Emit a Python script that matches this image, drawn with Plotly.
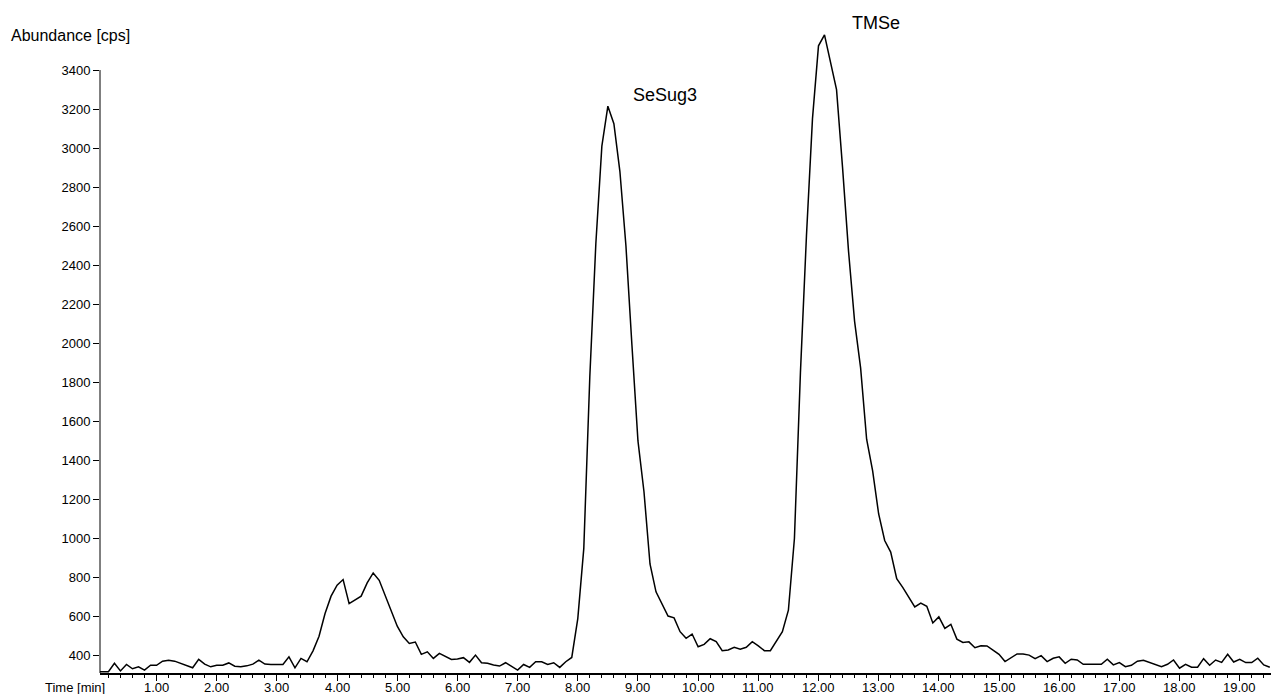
import plotly.graph_objects as go

time_min = [
    0.0, 0.1, 0.2, 0.3, 0.4, 0.5, 0.6, 0.7, 0.8, 0.9,
    1.0, 1.1, 1.2, 1.3, 1.4, 1.5, 1.6, 1.7, 1.8, 1.9,
    2.0, 2.1, 2.2, 2.3, 2.4, 2.5, 2.6, 2.7, 2.8, 2.9,
    3.0, 3.1, 3.2, 3.3, 3.4, 3.5, 3.6, 3.7, 3.8, 3.9,
    4.0, 4.1, 4.2, 4.3, 4.4, 4.5, 4.6, 4.7, 4.8, 4.9,
    5.0, 5.1, 5.2, 5.3, 5.4, 5.5, 5.6, 5.7, 5.8, 5.9,
    6.0, 6.1, 6.2, 6.3, 6.4, 6.5, 6.6, 6.7, 6.8, 6.9,
    7.0, 7.1, 7.2, 7.3, 7.4, 7.5, 7.6, 7.7, 7.8, 7.9,
    8.0, 8.1, 8.2, 8.3, 8.4, 8.5, 8.6, 8.7, 8.8, 8.9,
    9.0, 9.1, 9.2, 9.3, 9.4, 9.5, 9.6, 9.7, 9.8, 9.9,
    10.0, 10.1, 10.2, 10.3, 10.4, 10.5, 10.6, 10.7, 10.8, 10.9,
    11.0, 11.1, 11.2, 11.3, 11.4, 11.5, 11.6, 11.7, 11.8, 11.9,
    12.0, 12.1, 12.2, 12.3, 12.4, 12.5, 12.6, 12.7, 12.8, 12.9,
    13.0, 13.1, 13.2, 13.3, 13.4, 13.5, 13.6, 13.7, 13.8, 13.9,
    14.0, 14.1, 14.2, 14.3, 14.4, 14.5, 14.6, 14.7, 14.8, 14.9,
    15.0, 15.1, 15.2, 15.3, 15.4, 15.5, 15.6, 15.7, 15.8, 15.9,
    16.0, 16.1, 16.2, 16.3, 16.4, 16.5, 16.6, 16.7, 16.8, 16.9,
    17.0, 17.1, 17.2, 17.3, 17.4, 17.5, 17.6, 17.7, 17.8, 17.9,
    18.0, 18.1, 18.2, 18.3, 18.4, 18.5, 18.6, 18.7, 18.8, 18.9,
    19.0, 19.1, 19.2, 19.3, 19.4, 19.5,
]

abundance_cps = [
    318, 318, 318, 361, 322, 355, 333, 343, 326, 351,
    351, 372, 377, 372, 361, 348, 338, 381, 357, 343,
    351, 351, 363, 346, 343, 348, 357, 377, 357, 355,
    355, 355, 394, 338, 386, 369, 425, 500, 616, 705,
    761, 790, 667, 684, 705, 773, 824, 786, 710, 633,
    551, 497, 463, 470, 407, 420, 386, 412, 395, 381,
    383, 390, 366, 403, 364, 361, 352, 347, 364, 343,
    326, 355, 340, 369, 369, 355, 364, 340, 369, 391,
    590, 950, 1830, 2510, 3010, 3215, 3125, 2880, 2500, 1990,
    1500, 1240, 870, 727, 667, 603, 594, 523, 489, 511,
    446, 458, 487, 472, 426, 429, 443, 433, 443, 472,
    450, 426, 426, 472, 523, 633, 1000, 1850, 2550, 3150,
    3524, 3580, 3440, 3300, 2900, 2470, 2113, 1874, 1509, 1347,
    1126, 990, 931, 795, 750, 700, 650, 670, 653, 568,
    599, 540, 561, 485, 468, 471, 441, 451, 450, 429,
    407, 370, 390, 409, 409, 403, 385, 400, 370, 387,
    394, 361, 382, 378, 356, 356, 356, 356, 382, 353,
    365, 344, 351, 372, 377, 365, 354, 344, 356, 378,
    336, 356, 341, 341, 385, 351, 378, 366, 407, 368,
    382, 365, 365, 387, 353, 341,
]

y_ticks = [400, 600, 800, 1000, 1200, 1400, 1600, 1800, 2000, 2200,
           2400, 2600, 2800, 3000, 3200, 3400]
x_ticks = [1, 2, 3, 4, 5, 6, 7, 8, 9, 10, 11, 12, 13, 14, 15, 16, 17, 18, 19]
x_tick_labels = ["1.00", "2.00", "3.00", "4.00", "5.00", "6.00", "7.00", "8.00",
                 "9.00", "10.00", "11.00", "12.00", "13.00", "14.00", "15.00",
                 "16.00", "17.00", "18.00", "19.00"]

peak_names = ["SeSug3", "TMSe"]
peak_label_x = [8.89, 12.53]
peak_label_y = [3272, 3641]

FONT = "Liberation Sans, Arial, sans-serif"
Y_MIN, Y_MAX = 311.4, 3682
X_MIN, X_MAX = 0.06, 19.52

fig = go.Figure()
fig.add_trace(go.Scatter(
    x=time_min, y=abundance_cps, mode="lines",
    line=dict(color="black", width=1.5),
    showlegend=False, hoverinfo="skip",
))

# y axis line only up to the top tick
fig.add_shape(type="line", xref="paper", yref="y", x0=0, x1=0,
              y0=Y_MIN, y1=y_ticks[-1], line=dict(color="black", width=1))

annotations = []
for name, ax_, ay_ in zip(peak_names, peak_label_x, peak_label_y):
    annotations.append(dict(x=ax_, y=ay_, xref="x", yref="y", text=name,
                            showarrow=False, xanchor="left", yanchor="middle",
                            font=dict(family=FONT, size=18, color="black")))
annotations.append(dict(x=(9 - 100) / 1171, y=(673 - 36) / 658, xref="paper", yref="paper",
                        text="Abundance [cps]", showarrow=False, xanchor="left",
                        yanchor="middle", font=dict(family=FONT, size=16, color="black")))
annotations.append(dict(x=0, y=0, xref="paper", yref="paper", text="Time [min]",
                        showarrow=False, xanchor="right", yanchor="middle",
                        xshift=6, yshift=-14, borderpad=0,
                        font=dict(family=FONT, size=13, color="black")))
# x tick labels placed close under the axis, as in the reference
for tv, tl in zip(x_ticks, x_tick_labels):
    annotations.append(dict(x=tv, y=0, xref="x", yref="paper", text=tl,
                            showarrow=False, xanchor="center", yanchor="middle",
                            yshift=-14, borderpad=0,
                            font=dict(family=FONT, size=13, color="black")))

fig.update_layout(
    width=1271, height=694,
    margin=dict(l=100, r=0, t=15, b=21, autoexpand=False),
    paper_bgcolor="white", plot_bgcolor="white",
    font=dict(family=FONT, size=13, color="black"),
    annotations=annotations,
    xaxis=dict(
        range=[X_MIN, X_MAX], showgrid=False, zeroline=False, automargin=False,
        showline=True, linecolor="black", linewidth=2,
        ticks="outside", ticklen=6, tickwidth=1, tickcolor="black",
        tickvals=x_ticks, showticklabels=False,
        minor=dict(dtick=0.2, tick0=0, ticks="outside", ticklen=3,
                   tickwidth=1, tickcolor="black", showgrid=False),
    ),
    yaxis=dict(
        range=[Y_MIN, Y_MAX], showgrid=False, zeroline=False, showline=False,
        automargin=False,
        ticks="outside", ticklen=6, tickwidth=1, tickcolor="black",
        tickvals=y_ticks, ticktext=[str(v) for v in y_ticks],
        tickfont=dict(family=FONT, size=13, color="black"),
    ),
)

fig.write_html(
    "out.html",
    config={"displayModeBar": False},
    post_script=(
        "document.documentElement.style.margin='0';"
        "document.documentElement.style.overflow='hidden';"
        "document.body.style.margin='0';"
        "document.body.style.overflow='hidden';"
    ),
)
